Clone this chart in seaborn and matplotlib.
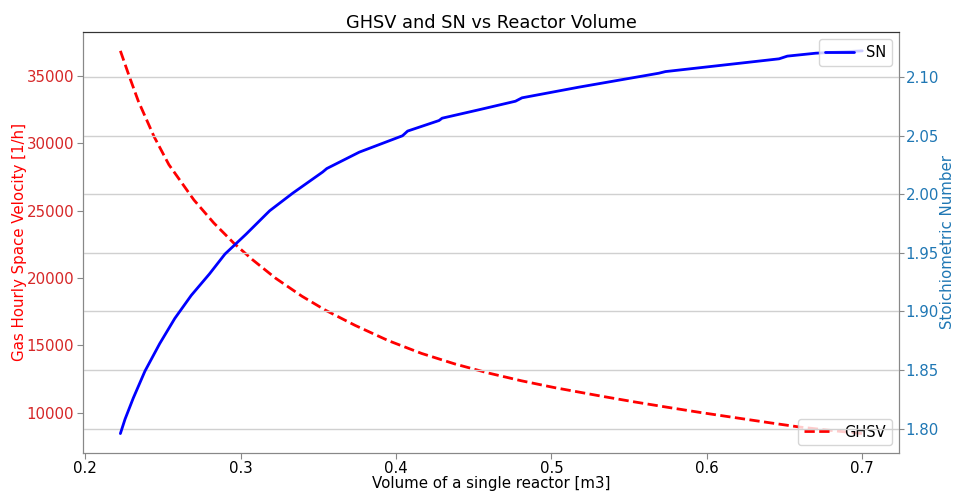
import numpy as np
import pandas as pd
import matplotlib
matplotlib.use('Agg')
import matplotlib.pyplot as plt
import seaborn as sns

# values
volume_ghsv = [0.2227, 0.2282, 0.2342, 0.2443, 0.2539, 0.27, 0.2828, 0.2956,
               0.3074, 0.3224, 0.3395, 0.3545, 0.3738, 0.3951, 0.4165, 0.4379,
               0.4593, 0.4807, 0.5021, 0.532, 0.5535, 0.5748, 0.5962, 0.62,
               0.64, 0.66, 0.68, 0.70]
ghsv = [36870, 35050, 33150, 30520, 28420, 25800, 24090, 22600,
        21390, 20000, 18650, 17620, 16480, 15350, 14400, 13620,
        12950, 12370, 11860, 11230, 10800, 10400, 10010, 9600,
        9260, 8930, 8680, 8450]

volume_sn = [0.2227, 0.2257, 0.231, 0.2385, 0.248, 0.2577, 0.2683, 0.28, 0.29,
             0.3036, 0.3165, 0.3188, 0.3336, 0.3528, 0.3555, 0.3764, 0.4042,
             0.4075, 0.4277, 0.4297, 0.4534, 0.4769, 0.4811, 0.5177, 0.5691,
             0.5734, 0.6465, 0.6518, 0.6701, 0.70]
sn = [1.7957, 1.808, 1.826, 1.849, 1.8725, 1.894, 1.9137, 1.932, 1.949,
      1.966, 1.983, 1.986, 2.001, 2.019, 2.022, 2.036, 2.050,
      2.054, 2.063, 2.065, 2.0722, 2.0795, 2.0824, 2.0915, 2.1034,
      2.1048, 2.1157, 2.118, 2.1205, 2.1225]

ghsv_df = pd.DataFrame({'volume': volume_ghsv, 'GHSV': ghsv})
sn_df = pd.DataFrame({'volume': volume_sn, 'SN': sn})

sns.set_style('white')
plt.rcParams['font.family'] = ['DejaVu Sans']
plt.rcParams['text.color'] = 'black'
plt.rcParams['axes.labelcolor'] = 'black'
plt.rcParams['xtick.color'] = 'black'
plt.rcParams['ytick.color'] = 'black'

fig, ax1 = plt.subplots(figsize=(9.54, 4.91), dpi=100)
fig.subplots_adjust(left=0.0873, right=0.9427, top=0.9354, bottom=0.078)

# GHSV on the left axis
sns.lineplot(data=ghsv_df, x='volume', y='GHSV', ax=ax1, color='red',
             linestyle='--', linewidth=2, label='GHSV')
ax1.set_xlabel('Volume of a single reactor [m3]', fontsize=10.8, labelpad=0)
ax1.set_ylabel('Gas Hourly Space Velocity [1/h]', color='red', fontsize=10.8,
               labelpad=0)
ax1.tick_params(axis='y', labelcolor='tab:red', labelsize=10.8, left=True,
                length=4, pad=2.5, color='#888888')
ax1.tick_params(axis='x', labelcolor='black', labelsize=10.8, bottom=True,
                length=4, pad=2, color='#888888')
ax1.grid(False)

# SN on the right axis
ax2 = ax1.twinx()
sns.lineplot(data=sn_df, x='volume', y='SN', ax=ax2, color='blue',
             linewidth=2, label='SN')
ax2.set_ylabel('Stoichiometric Number', color='tab:blue', fontsize=10.8,
               labelpad=0.5)
ax2.tick_params(axis='y', labelcolor='tab:blue', labelsize=10.8, right=True,
                length=3.5, pad=1, color='#888888')
ax2.grid(axis='y', color='#d0d0d0', linewidth=1)
ax2.set_axisbelow(True)

for ax in (ax1, ax2):
    for side in ('left', 'right', 'bottom'):
        ax.spines[side].set_color('#888888')
    ax.spines['top'].set_color('#333333')

ax1.legend(loc='lower right', fontsize=10.5)
ax2.legend(loc='upper right', fontsize=10.5)

plt.title('GHSV and SN vs Reactor Volume', fontsize=12.8, pad=3, color='black')
plt.savefig('out.png', dpi=100)
